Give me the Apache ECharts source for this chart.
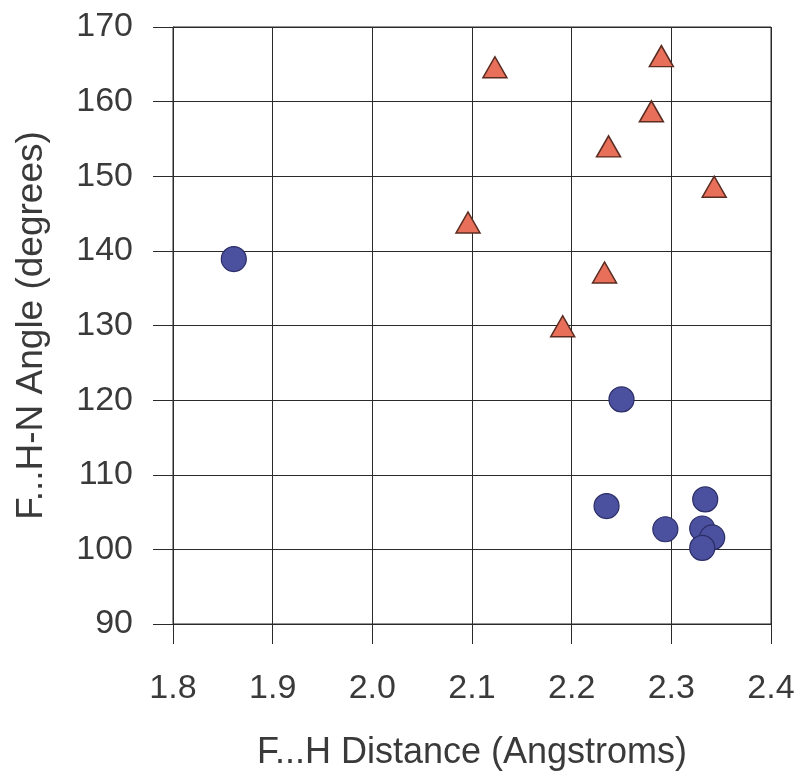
<!DOCTYPE html>
<html>
<head>
<meta charset="utf-8">
<script src="https://cdn.jsdelivr.net/npm/echarts@6/dist/echarts.min.js"></script>
<style>
html,body{margin:0;padding:0;background:#fff;}
#chart{width:800px;height:776px;}
</style>
</head>
<body>
<div id="chart"></div>
<script>
// Data
const triangleX = [2.123, 2.290, 2.280, 2.237, 2.343, 2.096, 2.233, 2.191];
const triangleY = [164.6, 166.1, 158.7, 154.0, 148.6, 143.8, 137.1, 129.9];
const circleX = [1.861, 2.250, 2.235, 2.294, 2.334, 2.331, 2.341, 2.331];
const circleY = [138.9, 120.1, 105.8, 102.7, 106.7, 102.8, 101.6, 100.2];
const xTicks = [1.8, 1.9, 2.0, 2.1, 2.2, 2.3, 2.4];
const yTicks = [90, 100, 110, 120, 130, 140, 150, 160, 170];
const xTitle = 'F...H Distance (Angstroms)';
const yTitle = 'F...H-N Angle (degrees)';

const pairs = (xs, ys) => xs.map((x, i) => [x, ys[i]]);
const font = 'Liberation Sans, Arial, sans-serif';
const textColor = '#3a3a3a';
const lineColor = '#2a2a2a';

const chart = echarts.init(document.getElementById('chart'), null, {renderer: 'canvas'});
chart.setOption({
  animation: false,
  backgroundColor: '#ffffff',
  grid: {left: 173, right: 29, top: 27, bottom: 143, show: true, borderColor: lineColor, borderWidth: 1},
  xAxis: {
    type: 'value',
    min: xTicks[0], max: xTicks[xTicks.length - 1], interval: 0.1,
    name: xTitle, nameLocation: 'middle', nameGap: 111,
    nameTextStyle: {fontFamily: font, fontSize: 36, color: textColor},
    axisLine: {show: true, onZero: false, lineStyle: {color: lineColor, width: 1}},
    axisTick: {show: true, inside: false, length: 20, lineStyle: {color: lineColor, width: 1}},
    axisLabel: {margin: 48, fontFamily: font, fontSize: 34, color: textColor,
      formatter: v => Number(v).toFixed(1)},
    splitLine: {show: true, lineStyle: {color: lineColor, width: 1}}
  },
  yAxis: {
    type: 'value',
    min: yTicks[0], max: yTicks[yTicks.length - 1], interval: 10,
    name: yTitle, nameLocation: 'middle', nameGap: 123, nameRotate: 90,
    nameTextStyle: {fontFamily: font, fontSize: 37, color: textColor},
    axisLine: {show: true, onZero: false, lineStyle: {color: lineColor, width: 1}},
    axisTick: {show: true, inside: false, length: 20, lineStyle: {color: lineColor, width: 1}},
    axisLabel: {margin: 40, fontFamily: font, fontSize: 34, color: textColor},
    splitLine: {show: true, lineStyle: {color: lineColor, width: 1}}
  },
  series: [
    {
      type: 'scatter',
      data: pairs(triangleX, triangleY),
      symbol: 'triangle',
      symbolSize: [24, 21],
      itemStyle: {color: '#e8705a', borderColor: '#5a2c22', borderWidth: 1.5, opacity: 1}
    },
    {
      type: 'scatter',
      data: pairs(circleX, circleY),
      symbol: 'circle',
      symbolSize: 25,
      itemStyle: {color: '#4b509f', borderColor: '#2b2d66', borderWidth: 1.2, opacity: 1}
    }
  ]
});
</script>
</body>
</html>
